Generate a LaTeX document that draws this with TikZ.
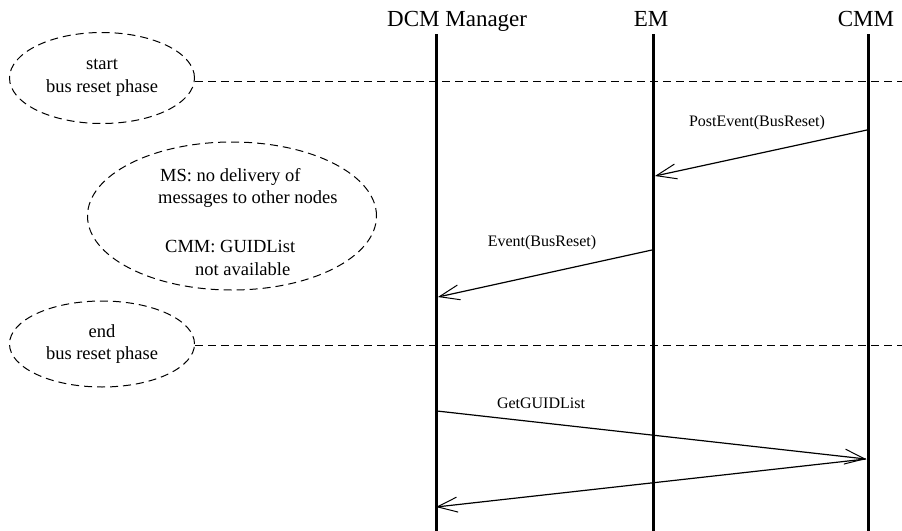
\documentclass[tikz,border=0pt]{standalone}
\usepackage{fontspec}
\setmainfont{Liberation Serif}
\usetikzlibrary{shapes.geometric,arrows.meta}
\begin{document}
\begin{tikzpicture}[x=1pt,y=-1pt,
  lifeline/.style={line width=3pt},
  msg/.style={line width=1.2pt,-{Straight Barb[length=20pt,width=15pt,line width=1pt]}},
  phasebox/.style={ellipse,draw,line width=1pt,dash pattern=on 8pt off 5pt,inner sep=0pt,
     font=\fontsize{18.5}{22.5}\selectfont,align=center},
  phaseline/.style={line width=1pt,dash pattern=on 8pt off 5pt},
  head/.style={font=\fontsize{23}{27}\selectfont,inner sep=0pt},
  lbl/.style={font=\fontsize{16}{19}\selectfont,inner sep=0pt,anchor=base},
  note/.style={font=\fontsize{18.5}{22.5}\selectfont,inner sep=0pt,anchor=base west}
]
\useasboundingbox (0,0) rectangle (902,530);

% headers
\node[head,anchor=base west] (hdcm) at (387,27) {DCM Manager};
\node[head,anchor=base] (hem) at (651,27) {EM};
\node[head,anchor=base] (hcmm) at (866,27) {CMM};

% lifelines
\coordinate (dcmtop) at (436,34);
\coordinate (dcmbot) at (436,532);
\coordinate (emtop) at (653,34);
\coordinate (embot) at (653,532);
\coordinate (cmmtop) at (868,34);
\coordinate (cmmbot) at (868,532);
\draw[lifeline] (dcmtop) -- (dcmbot);
\draw[lifeline] (emtop) -- (embot);
\draw[lifeline] (cmmtop) -- (cmmbot);

% phase ellipses
\node[phasebox,minimum width=185pt,minimum height=91pt] (start) at (102,78) {start\\bus reset phase};
\node[phasebox,minimum width=289pt,minimum height=148pt] (ms) at (232,216) {};
\node[phasebox,minimum width=185pt,minimum height=86pt] (end) at (102,344) {end\\bus reset phase};

\node[note] (n1) at (160,181) {MS: no delivery of};
\node[note] (n2) at (158,203) {messages to other nodes};
\node[note] (n3) at (165,252) {CMM: GUIDList};
\node[note] (n4) at (195,275) {not available};

% phase lines
\coordinate (sl1) at (195,81);
\coordinate (sl2) at (902,81);
\coordinate (el1) at (195,345);
\coordinate (el2) at (902,345);
\draw[phaseline] (sl1) -- (sl2);
\draw[phaseline] (el1) -- (el2);

% messages
\coordinate (m1s) at (867,130);
\coordinate (m1e) at (655,176);
\coordinate (m2s) at (652,250);
\coordinate (m2e) at (438,297);
\coordinate (m3s) at (437,411);
\coordinate (m3e) at (866,459);
\coordinate (m4e) at (436,507);
\draw[msg] (m1s) -- (m1e);
\draw[msg] (m2s) -- (m2e);
\draw[msg] (m3s) -- (m3e);
\draw[msg] (m3e) -- (m4e);

\node[lbl] (l1) at (757,126) {PostEvent(BusReset)};
\node[lbl] (l2) at (542,246) {Event(BusReset)};
\node[lbl] (l3) at (541,408) {GetGUIDList};
\end{tikzpicture}
\end{document}
